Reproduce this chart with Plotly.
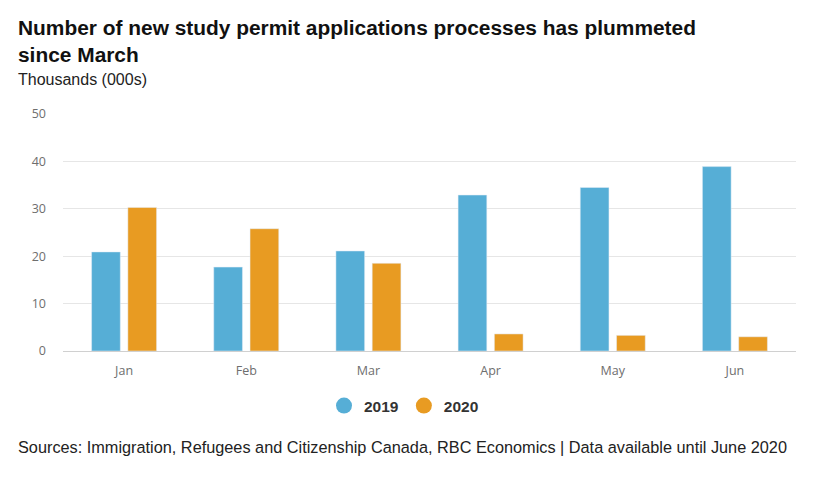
import plotly.graph_objects as go

months = ["Jan", "Feb", "Mar", "Apr", "May", "Jun"]
vals_2019 = [20.9, 17.7, 21.1, 32.9, 34.5, 38.9]
vals_2020 = [30.3, 25.8, 18.5, 3.6, 3.3, 3.0]
y_ticks = [0, 10, 20, 30, 40, 50]

c2019 = "#56AED6"
c2020 = "#E89B22"

fig = go.Figure()
fig.add_trace(go.Bar(x=months, y=vals_2019, name="2019", marker_color=c2019,
                     width=0.235, offset=-0.266, showlegend=False))
fig.add_trace(go.Bar(x=months, y=vals_2020, name="2020", marker_color=c2020,
                     width=0.235, offset=0.031, showlegend=False))
# legend entries with circle symbols
fig.add_trace(go.Scatter(x=[None], y=[None], mode="markers", name="<b>2019</b>",
                         marker=dict(symbol="circle", size=17, color=c2019)))
fig.add_trace(go.Scatter(x=[None], y=[None], mode="markers", name="<b>2020</b>",
                         marker=dict(symbol="circle", size=17, color=c2020)))

# page body has an 8px margin; plot area target (page px): x 63..796, y 114..351
L, T = 55, 106
R = 819 - (796 - 8)
B = 484 - (351 - 8)
PW = 796 - 63

fig.update_layout(
    width=819, height=484,
    margin=dict(l=L, r=R, t=T, b=B),
    paper_bgcolor="white", plot_bgcolor="white",
    barmode="overlay",
    showlegend=True,
    legend=dict(orientation="h", x=(404 - 63) / PW, xanchor="center", y=-55 / 237, yanchor="middle",
                font=dict(family="Liberation Sans, Arial", size=15.5, color="#333333"),
                itemwidth=30, tracegroupgap=0),
    xaxis=dict(type="category", range=[-0.5, 5.5], showgrid=False,
               showline=True, linecolor="#d0d0d0", linewidth=1,
               ticks="", ticklabelstandoff=8,
               tickfont=dict(family="Open Sans, sans-serif", size=12.5, color="#6e6e6e"),
               fixedrange=True),
    yaxis=dict(range=[0, 50], tickvals=y_ticks, showgrid=True, gridcolor="#e6e6e6",
               zeroline=False, showline=False, ticks="", ticklabelstandoff=16,
               tickfont=dict(family="Open Sans, sans-serif", size=12.5, color="#6e6e6e"),
               fixedrange=True),
    annotations=[
        dict(text="<b>Number of new study permit applications processes has plummeted<br>since March</b>",
             xref="paper", yref="paper", x=-L / PW, xanchor="left", xshift=8,
             y=1, yshift=T - 6, yanchor="top", align="left", showarrow=False,
             font=dict(family="Liberation Sans, Arial", size=20.9, color="#111111")),
        dict(text="Thousands (000s)", xref="paper", yref="paper", x=-L / PW, xshift=8,
             xanchor="left", y=1, yshift=T - 61, yanchor="top", showarrow=False,
             font=dict(family="Liberation Sans, Arial", size=16, color="#222222")),
        dict(text="Sources: Immigration, Refugees and Citizenship Canada, RBC Economics | Data available until June 2020",
             xref="paper", yref="paper", x=-L / PW, xshift=8, xanchor="left",
             y=0, yshift=-(447 - 351), yanchor="middle", showarrow=False,
             font=dict(family="Liberation Sans, Arial", size=16.3, color="#222222")),
    ],
)

fig.write_html("out.html")
